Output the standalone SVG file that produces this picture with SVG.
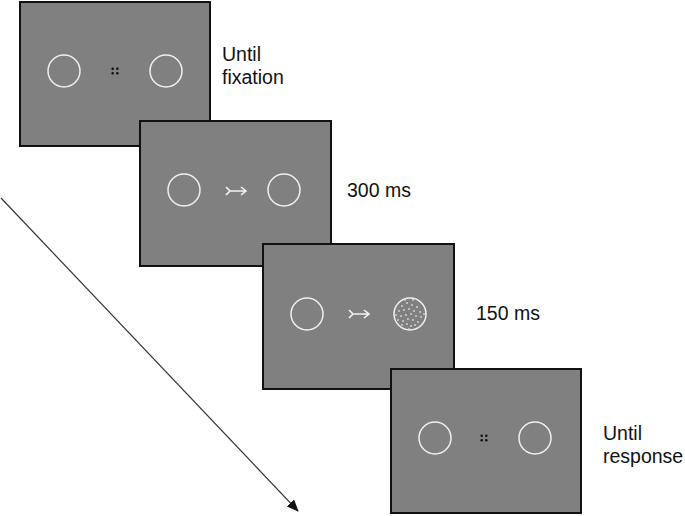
<svg xmlns="http://www.w3.org/2000/svg" width="685" height="516" viewBox="0 0 685 516">
<style>
.frame{fill:#808080;stroke:#111;stroke-width:2}
.ring{fill:none;stroke:#f0f0f0;stroke-width:1.5}
.lbl{font-family:"Liberation Sans",Arial,sans-serif;font-size:19.5px;fill:#111}
.cue{fill:none;stroke:#f4f4f4;stroke-width:1.6;stroke-linejoin:miter}
.fx{fill:#111}
.dot{fill:#d8d8d8}
</style>
<defs>
<marker id="ah" markerWidth="12" markerHeight="10" refX="11" refY="5" orient="auto" markerUnits="userSpaceOnUse">
<path d="M0,0 L12,5 L0,10 Z" fill="#111"/>
</marker>
<g id="fix">
<circle cx="-2.3" cy="-2.3" r="1.3"/><circle cx="2.3" cy="-2.3" r="1.3"/>
<circle cx="-2.3" cy="2.3" r="1.3"/><circle cx="2.3" cy="2.3" r="1.3"/>
</g>
<path id="cueArrow" d="M-15,-4 L-11,0 L-15,4 M-12,0 L5,0 M0,-4 L5,0 L0,4"/>
</defs>
<g id="connectors">
<line x1="1" y1="198" x2="298" y2="511" stroke="#333" stroke-width="1.2" marker-end="url(#ah)"/>
</g>
<g id="frame1">
<rect class="frame" x="20" y="2" width="190" height="144"/>
<circle class="ring" cx="64" cy="71" r="16"/>
<circle class="ring" cx="166" cy="71" r="16"/>
<use href="#fix" x="115" y="71" class="fx"/>
<text class="lbl" x="222" y="61">Until</text>
<text class="lbl" x="222" y="84">fixation</text>
</g>
<g id="frame2">
<rect class="frame" x="140" y="121" width="191" height="145"/>
<circle class="ring" cx="184" cy="190" r="16"/>
<circle class="ring" cx="284" cy="190" r="16"/>
<use href="#cueArrow" x="241" y="191" class="cue"/>
<text class="lbl" x="347" y="197">300 ms</text>
</g>
<g id="frame3">
<rect class="frame" x="263" y="244" width="191" height="145"/>
<circle class="ring" cx="307" cy="314" r="16"/>
<use href="#cueArrow" x="364" y="314" class="cue"/>
<circle class="ring" cx="410" cy="314" r="16"/>
<g class="dot">
<circle cx="402" cy="306" r="0.9"/><circle cx="407" cy="303" r="0.9"/><circle cx="412" cy="305" r="0.9"/><circle cx="417" cy="307" r="0.9"/>
<circle cx="399" cy="311" r="0.9"/><circle cx="404" cy="310" r="0.9"/><circle cx="409" cy="309" r="0.9"/><circle cx="414" cy="311" r="0.9"/><circle cx="420" cy="312" r="0.9"/>
<circle cx="401" cy="316" r="0.9"/><circle cx="406" cy="315" r="0.9"/><circle cx="411" cy="314" r="0.9"/><circle cx="416" cy="316" r="0.9"/><circle cx="421" cy="317" r="0.9"/>
<circle cx="398" cy="320" r="0.9"/><circle cx="403" cy="321" r="0.9"/><circle cx="408" cy="319" r="0.9"/><circle cx="413" cy="320" r="0.9"/><circle cx="418" cy="322" r="0.9"/>
<circle cx="402" cy="325" r="0.9"/><circle cx="407" cy="324" r="0.9"/><circle cx="411" cy="326" r="0.9"/><circle cx="415" cy="325" r="0.9"/>
<circle cx="405" cy="300" r="0.9"/><circle cx="413" cy="300" r="0.9"/><circle cx="396" cy="315" r="0.9"/><circle cx="424" cy="314" r="0.9"/><circle cx="409" cy="329" r="0.9"/>
</g>
<text class="lbl" x="476" y="320">150 ms</text>
</g>
<g id="frame4">
<rect class="frame" x="391" y="369" width="190" height="144"/>
<circle class="ring" cx="435" cy="438" r="16"/>
<circle class="ring" cx="535" cy="438" r="16"/>
<use href="#fix" x="484" y="438" class="fx"/>
<text class="lbl" x="603" y="440">Until</text>
<text class="lbl" x="603" y="463">response</text>
</g>
</svg>
